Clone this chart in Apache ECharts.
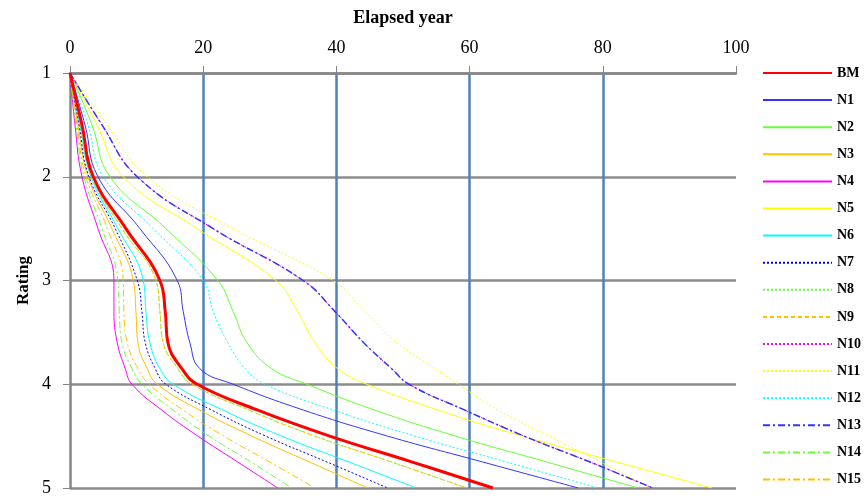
<!DOCTYPE html>
<html>
<head>
<meta charset="utf-8">
<script src="https://cdn.jsdelivr.net/npm/echarts@6/dist/echarts.min.js"></script>
<style>
  html, body { margin: 0; padding: 0; background: #fff; }
  #chart { width: 866px; height: 501px; }
</style>
</head>
<body>
<div id="chart"></div>
<script>
// rating levels (y), each series gives elapsed year (x) at those levels
var ratings = [1, 1.5, 2, 2.5, 3, 3.3, 3.6, 3.85, 4, 4.25, 4.5, 4.75, 5];
var xTicks = [0, 20, 40, 60, 80, 100];

var BM  = [0, 1.8, 3.5, 8.4, 13.5, 14.3, 14.7, 16.8, 19.1, 28.2, 39.0, 51.4, 63.5];
var N1  = [0, 2.25, 4.2, 10.5, 16.1, 17.0, 18.0, 19.5, 24.5, 35.1, 47.7, 62.0, 76.3];
var N2  = [0, 3.3, 6.0, 14.4, 22.2, 24.5, 26.6, 30.3, 35.6, 45.8, 57.9, 71.6, 85.3];
var N3  = [0, 1.2, 2.7, 6.3, 9.5, 9.9, 10.2, 11.6, 13.1, 19.5, 27.3, 36.0, 44.7];
var N4  = [0, 0.75, 1.8, 4.2, 6.6, 6.6, 7.1, 8.3, 9.3, 13.8, 19.2, 25.2, 31.2];
var N5  = [0, 4.05, 8.0, 19.1, 30.9, 34.2, 36.8, 40.2, 44.6, 55.3, 67.9, 82.1, 96.4];
var N6  = [0, 1.5, 3.15, 7.2, 11.0, 11.4, 12.0, 13.5, 15.5, 23.0, 31.8, 41.9, 52.0];
var N7  = [0, 1.35, 2.85, 6.8, 10.1, 10.8, 11.3, 12.8, 14.4, 21.3, 29.4, 38.6, 47.7];
var N8  = [0, 1.65, 3.3, 7.8, 12.9, 13.5, 14.0, 16.2, 18.3, 26.9, 36.8, 48.3, 59.6];
var N9  = [0, 1.65, 3.3, 7.8, 12.9, 13.5, 14.0, 16.2, 18.3, 26.9, 36.8, 48.3, 59.6];
var N10 = [0, 4.8, 10.1, 21.5, 35.0, 39.8, 44.1, 48.3, 50.9, 59.3, 68.2, 78.1, 87.5];
var N11 = [0, 5.6, 11.6, 24.5, 39.5, 44.3, 49.1, 54.8, 58.3, 64.3, 71.9, 79.7, 87.1];
var N12 = [0, 2.7, 5.0, 12.5, 20.0, 21.5, 23.7, 26.3, 29.3, 39.6, 51.8, 65.6, 79.3];
var N13 = [0, 4.8, 10.1, 21.5, 35.0, 39.8, 44.1, 48.3, 50.9, 59.3, 68.2, 78.1, 87.5];
var N14 = [0, 0.9, 2.1, 4.8, 7.2, 7.4, 7.8, 9.3, 10.8, 15.5, 20.9, 27.2, 33.3];
var N15 = [0, 1.05, 2.4, 5.6, 8.0, 8.1, 8.6, 10.2, 11.9, 17.0, 23.1, 30.0, 36.8];

var serif = 'Liberation Serif';
var dot = [2, 2];
var dash = [4, 3];
var dashDot = [7, 3, 2, 3];

function mk(name, xs, color, width, type) {
    return {
        name: name,
        type: 'line',
        symbol: 'none',
        smooth: 0.45,
        data: xs.map(function (x, i) { return [x, ratings[i]]; }),
        lineStyle: { color: color, width: width, type: type },
        itemStyle: { color: color },
        emphasis: { disabled: true },
        z: name == 'BM' ? 5 : 3
    };
}

var series = [
    mk('BM', BM, '#FF0000', 3, 'solid'),
    mk('N1', N1, '#3333FF', 1, 'solid'),
    mk('N2', N2, '#66FF33', 1, 'solid'),
    mk('N3', N3, '#FFC000', 1, 'solid'),
    mk('N4', N4, '#FF00FF', 1, 'solid'),
    mk('N5', N5, '#FFFF00', 1, 'solid'),
    mk('N6', N6, '#00FFFF', 1, 'solid'),
    mk('N7', N7, '#0000FF', 1, dot),
    mk('N8', N8, '#66FF33', 1, dot),
    mk('N9', N9, '#FFC000', 1, dash),
    mk('N10', N10, '#FF00FF', 1, dot),
    mk('N11', N11, '#FFFF00', 1, dot),
    mk('N12', N12, '#00FFFF', 1, dot),
    mk('N13', N13, '#3333FF', 1.5, dashDot),
    mk('N14', N14, '#66FF33', 1, dashDot),
    mk('N15', N15, '#FFC000', 1, dashDot)
];

var myChart = echarts.init(document.getElementById('chart'));
var option = {
    animation: false,
    backgroundColor: '#fff',
    grid: { left: 70, top: 73, right: 130, bottom: 13 },
    legend: {
        orient: 'vertical',
        left: 762,
        top: 66,
        padding: 0,
        itemWidth: 69,
        itemHeight: 14,
        itemGap: 13.1,
        itemStyle: { opacity: 0 },
        textStyle: { fontFamily: serif, fontWeight: 'bold', fontSize: 14, color: '#000' },
        data: series.map(function (s) { return s.name; })
    },
    xAxis: {
        type: 'value',
        position: 'top',
        min: xTicks[0],
        max: xTicks[xTicks.length - 1],
        interval: 20,
        name: 'Elapsed year',
        nameLocation: 'middle',
        nameGap: 46,
        nameMoveOverlap: false,
        nameTextStyle: { fontFamily: serif, fontWeight: 'bold', fontSize: 18, color: '#000' },
        axisLine: { show: true, lineStyle: { color: '#868686', width: 2.5 } },
        axisTick: { show: true, length: 7, lineStyle: { color: '#868686', width: 1 } },
        axisLabel: { fontFamily: serif, fontSize: 18, color: '#000', margin: 16 },
        splitLine: { show: true, showMinLine: false, showMaxLine: false, lineStyle: { color: '#4F81BD', width: 2.5 } }
    },
    yAxis: {
        type: 'value',
        inverse: true,
        min: 1,
        max: 5,
        interval: 1,
        name: 'Rating',
        nameLocation: 'middle',
        nameGap: 38,
        nameMoveOverlap: false,
        nameTextStyle: { fontFamily: serif, fontWeight: 'bold', fontSize: 17, color: '#000' },
        axisLine: { show: true, lineStyle: { color: '#868686', width: 2.5 } },
        axisTick: { show: true, length: 7, lineStyle: { color: '#868686', width: 1 } },
        axisLabel: { fontFamily: serif, fontSize: 18, color: '#000', margin: 19 },
        splitLine: { show: true, lineStyle: { color: '#8C8C8C', width: 2.5 } }
    },
    series: series
};
myChart.setOption(option);
</script>
</body>
</html>
